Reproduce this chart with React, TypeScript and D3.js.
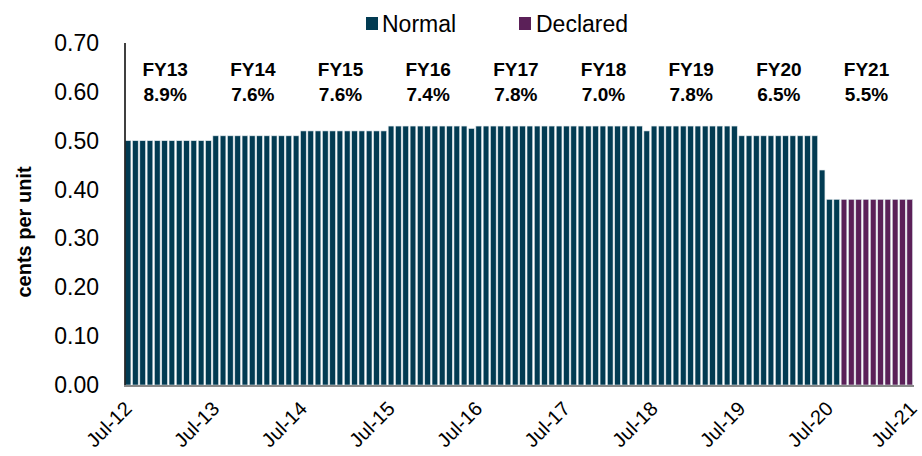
import React from 'react';
import * as d3 from 'd3';

// monthly distribution, Jul-12 .. Jun-21 (cents per unit)
const distributions: number[] = [
  0.50, 0.50, 0.50, 0.50, 0.50, 0.50, 0.50, 0.50, 0.50, 0.50, 0.50, 0.50, // FY13
  0.51, 0.51, 0.51, 0.51, 0.51, 0.51, 0.51, 0.51, 0.51, 0.51, 0.51, 0.51, // FY14
  0.52, 0.52, 0.52, 0.52, 0.52, 0.52, 0.52, 0.52, 0.52, 0.52, 0.52, 0.52, // FY15
  0.53, 0.53, 0.53, 0.53, 0.53, 0.53, 0.53, 0.53, 0.53, 0.53, 0.53, 0.525, // FY16
  0.53, 0.53, 0.53, 0.53, 0.53, 0.53, 0.53, 0.53, 0.53, 0.53, 0.53, 0.53, // FY17
  0.53, 0.53, 0.53, 0.53, 0.53, 0.53, 0.53, 0.53, 0.53, 0.53, 0.53, 0.52, // FY18
  0.53, 0.53, 0.53, 0.53, 0.53, 0.53, 0.53, 0.53, 0.53, 0.53, 0.53, 0.53, // FY19
  0.51, 0.51, 0.51, 0.51, 0.51, 0.51, 0.51, 0.51, 0.51, 0.51, 0.51, 0.44, // FY20
  0.38, 0.38, 0.38, 0.38, 0.38, 0.38, 0.38, 0.38, 0.38, 0.38, 0.38, 0.38, // FY21
];
const firstDeclaredMonth = 'Sep-20';

const fiscalYears = ['FY13', 'FY14', 'FY15', 'FY16', 'FY17', 'FY18', 'FY19', 'FY20', 'FY21'];
const fiscalYields = ['8.9%', '7.6%', '7.6%', '7.4%', '7.8%', '7.0%', '7.8%', '6.5%', '5.5%'];
const yTicks = [0, 0.1, 0.2, 0.3, 0.4, 0.5, 0.6, 0.7];
const xTickLabels = ['Jul-12', 'Jul-13', 'Jul-14', 'Jul-15', 'Jul-16', 'Jul-17', 'Jul-18', 'Jul-19', 'Jul-20', 'Jul-21'];

const fmtMonth = d3.timeFormat('%b-%y');
const months = d3.timeMonth.range(new Date(2012, 6, 1), new Date(2021, 6, 1)).map(fmtMonth);

const FONT = "'Liberation Sans', Arial, sans-serif";
const NORMAL = '#023b52';
const DECLARED = '#5b2058';

const App: React.FC = () => {
  const width = 922;
  const height = 456;
  const left = 125;
  const right = 914;
  const top = 43;
  const bottom = 385;

  const x = d3.scaleBand<number>().domain(d3.range(months.length)).range([left, right]).padding(0);
  const bw = x.bandwidth();
  const xAt = (i: number) => left + i * bw;
  const y = d3.scaleLinear().domain([0, 0.7]).range([bottom, top]);
  const declaredIdx = months.indexOf(firstDeclaredMonth);

  return (
    <svg width={width} height={height} style={{ position: 'absolute', left: 0, top: 0 }} fontFamily={FONT}>
      <rect width={width} height={height} fill="#fff" />

      {/* legend */}
      <rect x={366} y={17} width={12} height={13} fill={NORMAL} />
      <text x={382} y={32} fontSize={23}>Normal</text>
      <rect x={519} y={17} width={12} height={13} fill={DECLARED} />
      <text x={536} y={32} fontSize={23}>Declared</text>

      {/* bars */}
      {distributions.map((v, i) => (
        <rect
          key={i}
          x={(x(i) as number) + 0.2}
          y={y(v)}
          width={bw - 1.6}
          height={y(0) - y(v)}
          fill={i >= declaredIdx ? DECLARED : NORMAL}
          stroke="#dde6ea"
          strokeWidth={0.6}
        />
      ))}

      {/* y axis */}
      {yTicks.map((t) => (
        <text key={t} x={99} y={y(t)} dy="0.35em" textAnchor="end" fontSize={23}>
          {t.toFixed(2)}
        </text>
      ))}
      <line x1={left} x2={left} y1={top} y2={bottom + 1} stroke="#000" strokeWidth={1.5} />
      <line x1={left - 1} x2={right} y1={bottom + 1} y2={bottom + 1} stroke="#898989" strokeWidth={2} />

      <text
        transform={`translate(31,232) rotate(-90)`}
        textAnchor="middle"
        fontSize={20}
        fontWeight="bold"
      >
        cents per unit
      </text>

      {/* x tick labels */}
      {xTickLabels.map((lab, k) => (
        <text
          key={lab}
          transform={`translate(${Math.min(xAt(k * 12) + 8, 918)},410) rotate(-45)`}
          textAnchor="end"
          fontSize={20}
        >
          {lab}
        </text>
      ))}

      {/* fiscal year annotations */}
      {fiscalYears.map((fy, k) => {
        const cx = xAt(k * 12 + 5.5);
        return (
          <g key={fy} fontWeight="bold" fontSize={19} textAnchor="middle">
            <text x={cx} y={76}>{fy}</text>
            <text x={cx} y={101}>{fiscalYields[k]}</text>
          </g>
        );
      })}
    </svg>
  );
};

export default App;
